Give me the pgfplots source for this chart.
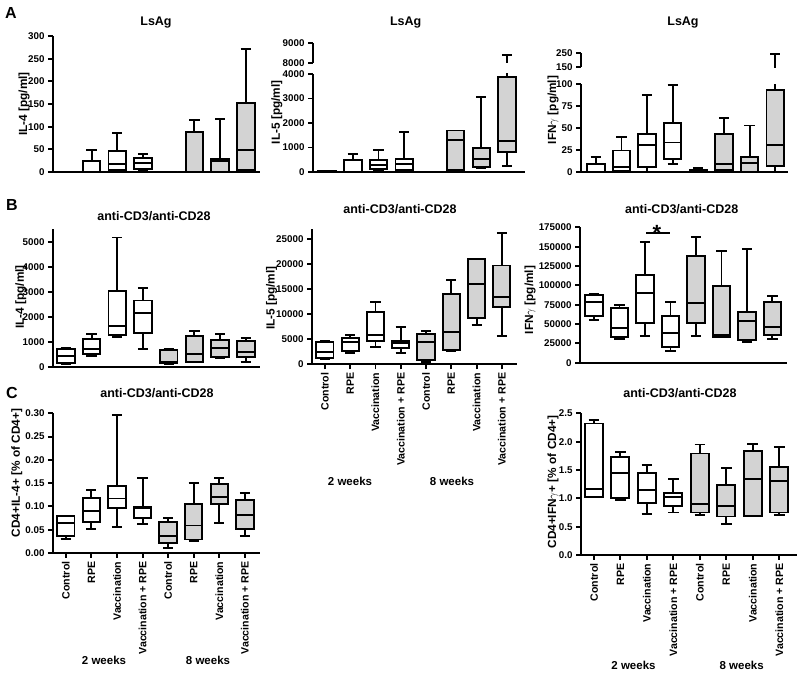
\documentclass[border=0pt]{standalone}
\usepackage{fontspec}
\setmainfont{Liberation Sans}
\usepackage{pgfplots}
\usepackage{pgfplotstable}
\pgfplotsset{compat=1.18}
\definecolor{boxgray}{RGB}{211,211,211}

% columns: lower whisker, lower quartile, median, upper quartile, upper whisker
\pgfplotstableread{
lw lq med uq uw
0 0 0 0 0
0 0 0 25 48
1 5 17.6 47 86
4 7 20 31 40
0 0 0 0 0
0 0 0 88 114
0 0 23.5 29 117
1 5 49 153 272
}\tAa
\pgfplotstableread{
lw lq med uq uw
0 10 20 40 50
0 0 0 475 746
54 122 271 475 881
40 95 339 529 1614
0 0 0 0 0
0 68 1315 1695 1695
163 203 529 963 3051
230 800 1247 3864 8400
}\tAb
\pgfplotstableread{
lw lq med uq uw
0 0 0 9.4 16.6
0 1.5 5.3 24.5 40
0 5.7 31 43 88
9.4 15 33.6 55.5 99
0 0.8 1.5 2.6 4.5
0 1.9 9 43.4 62
0 0 10.2 16.6 53
0 6.4 30.6 93 247
}\tAc
\pgfplotstableread{
lw lq med uq uw
94 134 442 697 737
442 496 710 1099 1314
1180 1273 1650 3050 5188
710 1367 2145 2660 3177
94 134 200 670 697
174 200 509 1233 1448
362 402 737 1072 1300
200 375 576 1032 1166
}\tBa
\pgfplotstableread{
lw lq med uq uw
1000 1200 2530 4390 4650
2330 2660 4520 5190 5850
3520 4650 5850 10500 12370
2330 3320 4190 4650 7380
400 860 4390 6050 6650
2660 2860 6520 13960 16820
7850 9180 15960 20940 21010
5720 11500 13430 19680 26130
}\tBb
\pgfplotstableread{
lw lq med uq uw
55170 60300 78900 87500 88360
30600 33620 44400 70260 74570
34900 50900 90500 113360 155600
15500 20700 37900 60300 78000
34900 51700 77600 137900 162070
32760 32760 35780 99140 144800
26300 29300 53880 65950 147000
30600 35780 46550 78900 86200
}\tBc
\pgfplotstableread{
lw lq med uq uw
0.030 0.037 0.065 0.079 0.080
0.051 0.066 0.090 0.119 0.135
0.056 0.096 0.117 0.144 0.296
0.062 0.075 0.096 0.099 0.162
0.011 0.021 0.037 0.067 0.075
0.026 0.029 0.059 0.106 0.151
0.065 0.106 0.121 0.149 0.161
0.036 0.051 0.081 0.114 0.128
}\tCa
\pgfplotstableread{
lw lq med uq uw
1.02 1.03 1.16 2.32 2.38
0.97 1.01 1.45 1.735 1.82
0.72 0.92 1.15 1.45 1.59
0.75 0.865 1.03 1.10 1.34
0.71 0.75 0.90 1.79 1.95
0.54 0.68 0.865 1.235 1.54
0.69 0.69 1.34 1.84 1.96
0.71 0.75 1.31 1.56 1.91
}\tCb

% one box-and-whisker from row #2 of table #1, drawn at x = #2, filled with #3
\newcommand{\bp}[3]{%
  \pgfplotstablegetelem{#2}{lw}\of{#1}\let\vlw\pgfplotsretval
  \pgfplotstablegetelem{#2}{lq}\of{#1}\let\vlq\pgfplotsretval
  \pgfplotstablegetelem{#2}{med}\of{#1}\let\vmed\pgfplotsretval
  \pgfplotstablegetelem{#2}{uq}\of{#1}\let\vuq\pgfplotsretval
  \pgfplotstablegetelem{#2}{uw}\of{#1}\let\vuw\pgfplotsretval
  \pgfmathsetmacro\xl{#2-0.34}\pgfmathsetmacro\xr{#2+0.34}%
  \pgfmathsetmacro\wl{#2-0.2}\pgfmathsetmacro\wr{#2+0.2}%
  \edef\tmp{%
   \noexpand\addplot[bxline] coordinates {(#2,\vuq) (#2,\vuw)};%
   \noexpand\addplot[bxline] coordinates {(\wl,\vuw) (\wr,\vuw)};%
   \noexpand\addplot[bxline] coordinates {(#2,\vlq) (#2,\vlw)};%
   \noexpand\addplot[bxline] coordinates {(\wl,\vlw) (\wr,\vlw)};%
   \noexpand\addplot[bxline, fill=#3] coordinates {(\xl,\vlq) (\xr,\vlq) (\xr,\vuq) (\xl,\vuq)} -- cycle;%
   \noexpand\addplot[bxline] coordinates {(\xl,\vmed) (\xr,\vmed)};%
  }\tmp}
\newcommand{\allbp}[1]{\bp{#1}{0}{white}\bp{#1}{1}{white}\bp{#1}{2}{white}\bp{#1}{3}{white}%
  \bp{#1}{4}{boxgray}\bp{#1}{5}{boxgray}\bp{#1}{6}{boxgray}\bp{#1}{7}{boxgray}}

\pgfplotsset{
  bxline/.style={draw=black, line width=1.9pt, mark=none, line join=miter},
  bx/.style={scale only axis, anchor=south west,
    axis x line*=bottom, axis y line*=left,
    axis line style={-, line width=1.9pt},
    every tick/.style={line width=1.9pt, black},
    tick align=outside, major tick length=5pt,
    xtick=\empty, scaled ticks=false,
    /pgf/number format/assume math mode=true,
    /pgf/number format/fixed,
    /pgf/number format/1000 sep={},
    yticklabel style={font=\fontsize{9.8}{10.5}\selectfont\bfseries},
    ylabel style={font=\fontsize{11.8}{12}\selectfont\bfseries, anchor=center},
    ymin=0},
  upper/.style={scale only axis, anchor=south west,
    axis x line=none, axis y line*=left,
    axis line style={-, line width=1.9pt},
    every tick/.style={line width=1.9pt, black},
    tick align=outside, major tick length=5pt,
    scaled ticks=false,
    /pgf/number format/assume math mode=true,
    /pgf/number format/fixed,
    /pgf/number format/1000 sep={},
    yticklabel style={font=\fontsize{9.8}{10.5}\selectfont\bfseries}},
  cats/.style={xtick={0,1,2,3,4,5,6,7},
    xticklabels={Control,RPE,Vaccination,Vaccination + RPE,Control,RPE,Vaccination,Vaccination + RPE},
    xticklabel style={rotate=90, anchor=east, font=\fontsize{10.6}{11}\selectfont\bfseries}},
}

\begin{document}
\begin{tikzpicture}[x=1pt,y=1pt]
\path[use as bounding box] (0pt,0pt) rectangle (800pt,674pt);
\tikzset{ttl/.style={font=\fontsize{12.5}{13}\selectfont\bfseries},
  lett/.style={font=\fontsize{16}{17}\selectfont\bfseries},
  grp/.style={font=\fontsize{11.5}{12}\selectfont\bfseries}}

% ---------------- A ----------------
\begin{axis}[bx, at={(53pt,502pt)}, width=207pt, height=136pt, xmin=-0.5, xmax=7.55,
  ymax=300, ytick={0,50,100,150,200,250,300}, ylabel={IL-4 [pg/ml]},
  ylabel style={at={(axis description cs:-0.14,0.5)}}]
\allbp{\tAa}
\end{axis}

\begin{axis}[bx, at={(313pt,502pt)}, width=212pt, height=98pt, xmin=-0.55, xmax=7.7,
  ymax=4000, ytick={0,1000,2000,3000,4000}, ylabel={IL-5 [pg/ml]},
  ylabel style={at={(axis description cs:-0.171,0.61)}}]
\allbp{\tAb}
\end{axis}
\begin{axis}[upper, at={(313pt,611pt)}, width=212pt, height=20pt, xmin=-0.55, xmax=7.7,
  ymin=8000, ymax=9000, ytick={8000,9000}]
\bp{\tAb}{7}{boxgray}
\end{axis}

\begin{axis}[bx, at={(581pt,502pt)}, width=207pt, height=87.7pt, xmin=-0.58, xmax=7.5,
  ymax=100, ytick={0,25,50,75,100}, ylabel={IFN$\gamma$ [pg/ml]},
  ylabel style={at={(axis description cs:-0.135,0.707)}}]
\allbp{\tAc}
\end{axis}
\begin{axis}[upper, at={(581pt,606.7pt)}, width=207pt, height=14pt, xmin=-0.58, xmax=7.5,
  ymin=150, ymax=250, ytick={150,250}]
\bp{\tAc}{7}{boxgray}
\end{axis}

% ---------------- B ----------------
\begin{axis}[bx, at={(53pt,307.3pt)}, width=207pt, height=137.7pt, xmin=-0.5, xmax=7.55,
  ymax=5530, ytick={0,1000,2000,3000,4000,5000}, ylabel={IL-4 [pg/ml]},
  ylabel style={at={(axis description cs:-0.155,0.506)}}]
\allbp{\tBa}
\end{axis}

\begin{axis}[bx, cats, at={(312pt,309.7pt)}, width=205pt, height=135pt, xmin=-0.51, xmax=7.6,
  ymax=26900, ytick={0,5000,10000,15000,20000,25000}, ylabel={IL-5 [pg/ml]},
  ylabel style={at={(axis description cs:-0.197,0.49)}}]
\allbp{\tBb}
\end{axis}

\begin{axis}[bx, at={(580pt,311.3pt)}, width=206.7pt, height=135.4pt, xmin=-0.55, xmax=7.56,
  ymax=175000, ytick={0,25000,50000,75000,100000,125000,150000,175000}, ylabel={IFN$\gamma$ [pg/ml]},
  ylabel style={at={(axis description cs:-0.242,0.463)}}]
\allbp{\tBc}
\end{axis}
\draw[line width=1.6pt] (646pt,440.7pt) -- (670pt,440.7pt);
\node[font=\fontsize{22}{22}\selectfont\bfseries] at (657pt,441pt) {*};

% ---------------- C ----------------
\begin{axis}[bx, cats, at={(53pt,121pt)}, width=207pt, height=139.7pt, xmin=-0.5, xmax=7.59,
  ymax=0.30, ytick={0,0.05,0.10,0.15,0.20,0.25,0.30},
  yticklabel style={/pgf/number format/.cd, fixed, fixed zerofill, precision=2},
  ylabel={CD4+IL-4+ [\% of CD4+]},
  ylabel style={at={(axis description cs:-0.175,0.573)}}]
\allbp{\tCa}
\end{axis}

\begin{axis}[bx, cats, at={(581pt,119pt)}, width=215.7pt, height=141.7pt, xmin=-0.49, xmax=7.66,
  ymax=2.5, ytick={0,0.5,1.0,1.5,2.0,2.5},
  yticklabel style={/pgf/number format/.cd, fixed, fixed zerofill, precision=1},
  ylabel={CD4+IFN$\gamma$+ [\% of CD4+]},
  ylabel style={at={(axis description cs:-0.13,0.515)}}]
\allbp{\tCb}
\end{axis}

% ---------------- text ----------------
\node[lett] at (11pt,661pt) {A};
\node[lett] at (12pt,469pt) {B};
\node[lett] at (12pt,281.3pt) {C};
\node[ttl] at (156pt,651pt) {LsAg};
\node[ttl] at (405.7pt,651pt) {LsAg};
\node[ttl] at (683pt,651pt) {LsAg};
\node[ttl] at (154pt,458pt) {anti-CD3/anti-CD28};
\node[ttl] at (400pt,464.7pt) {anti-CD3/anti-CD28};
\node[ttl] at (681.7pt,464.7pt) {anti-CD3/anti-CD28};
\node[ttl] at (157pt,281.3pt) {anti-CD3/anti-CD28};
\node[ttl] at (680pt,280.7pt) {anti-CD3/anti-CD28};
\node[grp] at (350pt,193pt) {2 weeks};
\node[grp] at (452pt,193pt) {8 weeks};
\node[grp] at (104pt,13.3pt) {2 weeks};
\node[grp] at (208pt,13.3pt) {8 weeks};
\node[grp] at (633.5pt,9pt) {2 weeks};
\node[grp] at (741.7pt,9pt) {8 weeks};
\end{tikzpicture}
\end{document}
